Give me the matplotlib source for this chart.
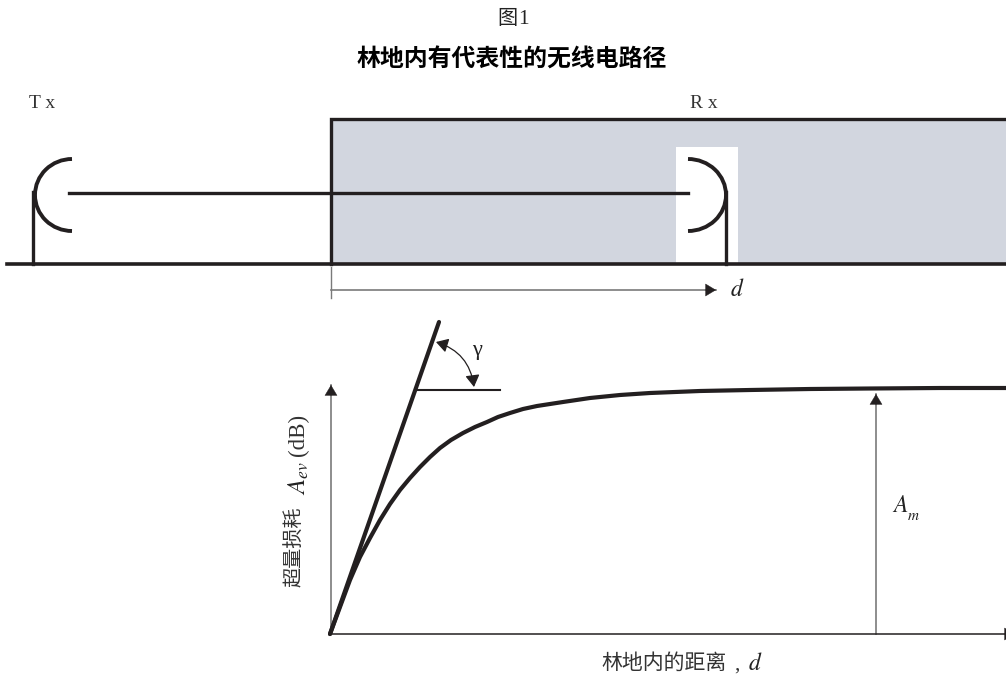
import matplotlib
matplotlib.use("Agg")
import matplotlib.pyplot as plt
from matplotlib.patches import Arc, Rectangle, FancyArrowPatch

plt.rcParams['font.family'] = ['Noto Sans CJK SC', 'DejaVu Sans']
plt.rcParams['mathtext.fontset'] = 'stix'

DARK = "#231f20"
GREY = "#7a7a7a"
FOREST = "#d2d6df"
SERIF = ['Liberation Serif', 'DejaVu Serif']

# excess loss curve
curve_x = [330, 340, 350, 360, 370, 380, 390, 400, 410, 420, 430, 440, 451, 463, 475, 487,
           498, 510, 523, 537, 550, 563, 590, 620, 650, 700, 750, 810, 870, 940, 1006]
curve_y = [634, 607, 580, 557, 538, 520, 504, 490, 478, 467, 457, 448, 440, 433, 427, 422,
           417, 413, 409, 406, 404, 402, 398, 395, 393, 391, 390, 389, 388.5, 388, 388]

# initial slope line
slope_x = [330, 439]
slope_y = [634, 322]

title_top = "图"
title_num = "1"
title_main = "林地内有代表性的无线电路径"
xlabel = "林地内的距离"
ylabel = "超量损耗"

fig = plt.figure(figsize=(10.06, 6.75), dpi=100)
ax = fig.add_axes([0, 0, 1, 1])
ax.set_xlim(0, 1006)
ax.set_ylim(675, 0)
ax.axis("off")

# forest block with the white gap around Rx
ax.add_patch(Rectangle((331, 119), 680, 145, fc=FOREST, ec="none", zorder=1))
ax.add_patch(Rectangle((676, 147), 62, 116, fc="white", ec="none", zorder=2))
ax.plot([331, 331, 1006], [264, 119, 119], color=DARK, lw=2.4, zorder=3, solid_joinstyle="miter")
ax.plot([7, 1006], [264, 264], color=DARK, lw=2.6, zorder=3)

# antennas and path
ax.plot([69, 688], [193, 193], color=DARK, lw=2.4, zorder=3)
ax.plot([33, 33], [192, 264], color=DARK, lw=2.4, zorder=3)
ax.plot([726, 726], [192, 264], color=DARK, lw=2.4, zorder=3)
ax.add_patch(Arc((72, 195), 74, 72, theta1=90, theta2=270, color=DARK, lw=2.8, zorder=3))
ax.add_patch(Arc((688, 195), 76, 72, theta1=270, theta2=90, color=DARK, lw=2.8, zorder=3))

HEAD = "-|>,head_length=0.4,head_width=0.24"


def arrow(p0, p1, style=HEAD, color=DARK, lw=0.3, **kw):
    ax.add_patch(FancyArrowPatch(p0, p1, arrowstyle=style, mutation_scale=18, lw=lw,
                                 color=color, shrinkA=0, shrinkB=0, zorder=4, **kw))


def shaft_arrow(p0, p1):
    # grey shaft, dark head
    ax.plot([p0[0], p1[0]], [p0[1], p1[1]], color=GREY, lw=1.2, zorder=3)
    dx = (p1[0] > p0[0]) - (p1[0] < p0[0])
    dy = (p1[1] > p0[1]) - (p1[1] < p0[1])
    arrow((p1[0] - 11 * dx, p1[1] - 11 * dy), p1)


# distance marker
ax.plot([331, 331], [267, 298], color=GREY, lw=1.0)
shaft_arrow((331, 290), (716, 290))

# lower chart
ax.plot(curve_x, curve_y, color=DARK, lw=3.0, zorder=5, solid_capstyle="round")
ax.plot(slope_x, slope_y, color=DARK, lw=3.0, zorder=5, solid_capstyle="round")
ax.plot([416, 500], [390, 390], color=DARK, lw=1.5, zorder=4)
shaft_arrow((331, 634), (331, 385))
ax.plot([331, 1006], [634, 634], color=DARK, lw=1.1, zorder=4)
arrow((1004, 634), (1015, 634))
shaft_arrow((876, 634), (876, 394))
arrow((436, 342), (474, 387), style="<|-|>,head_length=0.4,head_width=0.24", lw=0.9,
      connectionstyle="arc3,rad=-0.32")

# text
ax.text(507, 19, title_top, ha="center", va="center", fontsize=14.5, color="#222222")
ax.text(523, 19, title_num, ha="center", va="center", fontsize=15.5, color="#222222", family=SERIF)
ax.text(512, 60, title_main, ha="center", va="center", fontsize=17.2, fontweight="bold", color="black")
ax.text(42, 103, "T x", ha="center", va="center", fontsize=14, color="#333333", family=SERIF)
ax.text(704, 103, "R x", ha="center", va="center", fontsize=14, color="#333333", family=SERIF)
ax.text(737, 290, "$d$", ha="center", va="center", fontsize=17, color="#222222")
ax.text(477, 351, "γ", ha="center", va="center", fontsize=16, color="#222222", family=SERIF)
ax.text(892, 505, "$A$", ha="left", va="center", fontsize=17, color="#222222")
ax.text(907, 515, "$m$", ha="left", va="center", fontsize=11, color="#222222")

ax.text(664, 663, xlabel, ha="center", va="center", fontsize=15, color="#333333")
ax.text(737, 665, ",", ha="center", va="center", fontsize=15, color="#333333", family=SERIF)
ax.text(748, 663, "$d$", ha="left", va="center", fontsize=17, color="#222222")

ax.text(295, 547, ylabel, rotation=90, ha="center", va="center", fontsize=14.5, color="#333333")
ax.text(299, 478, "$A_{ev}$", rotation=90, ha="center", va="center", fontsize=18, color="#222222")
ax.text(298, 435, "(dB)", rotation=90, ha="center", va="center", fontsize=16.5, color="#333333", family=SERIF)

fig.savefig("out.png", dpi=100)
